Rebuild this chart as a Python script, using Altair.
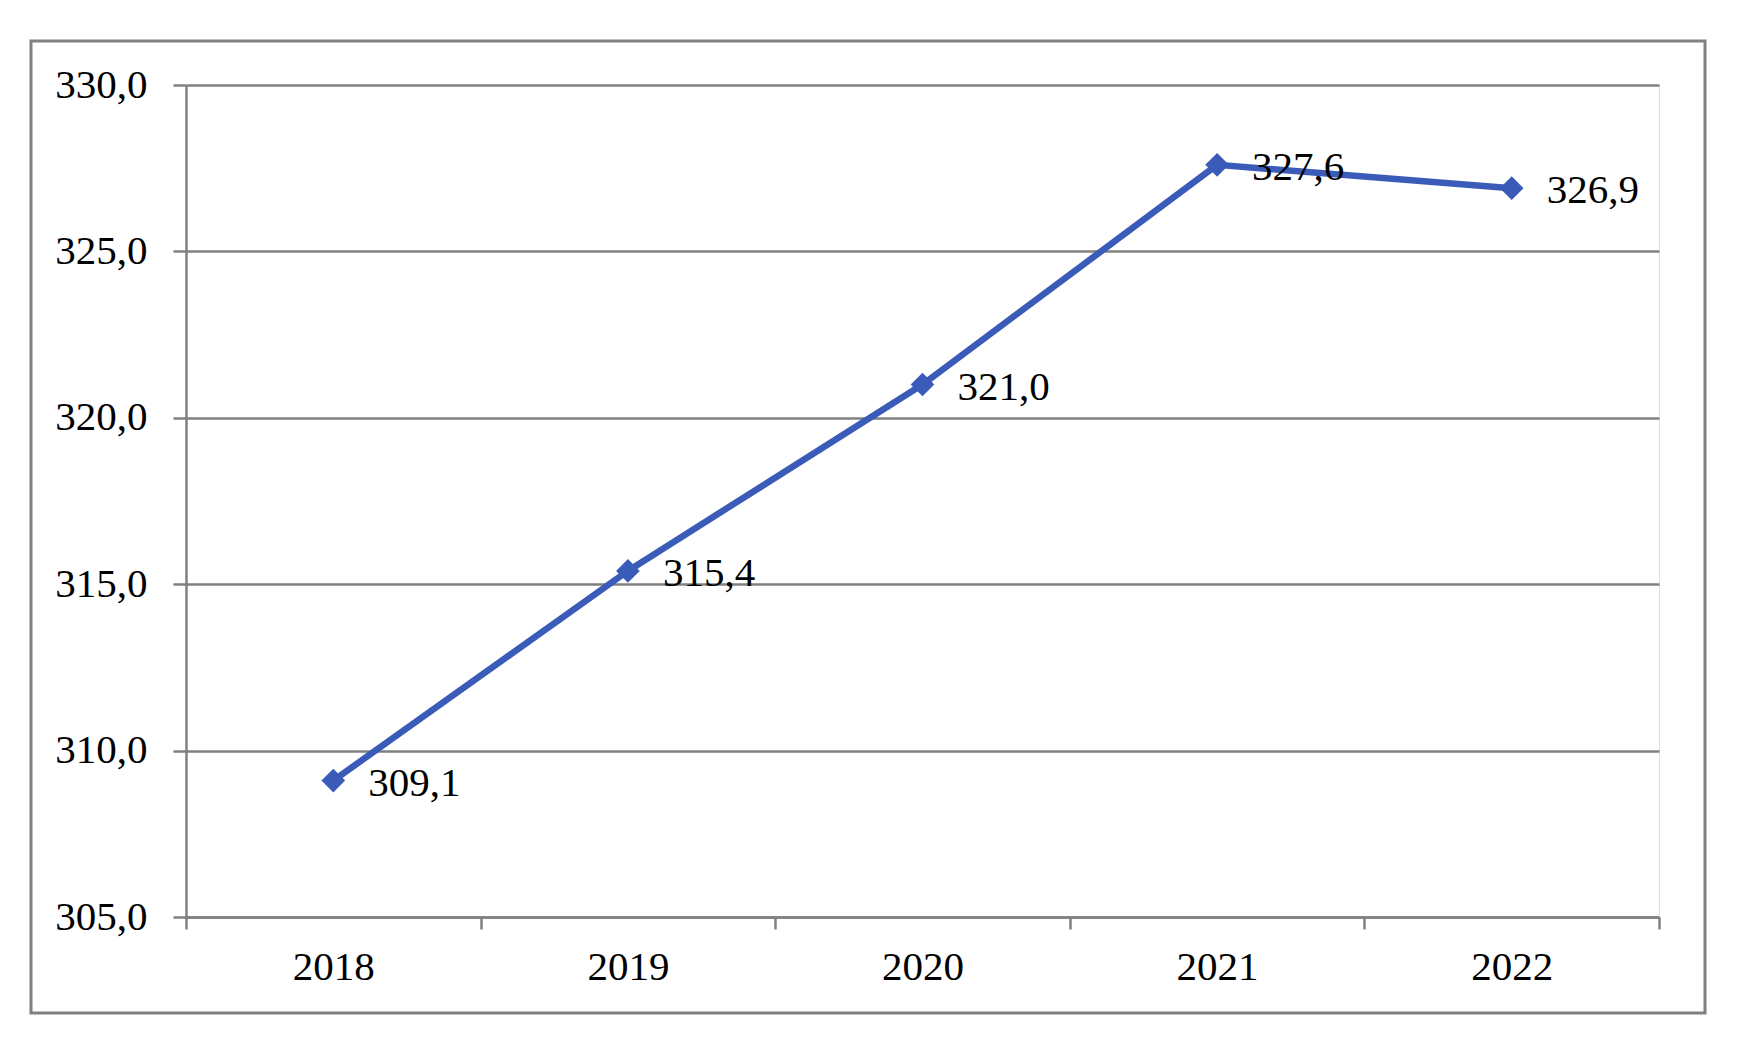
import altair as alt
import pandas as pd

years = ["2018", "2019", "2020", "2021", "2022"]
values = [309.1, 315.4, 321.0, 327.6, 326.9]
y_ticks = [305, 310, 315, 320, 325, 330]

df = pd.DataFrame({"year": years, "value": values})

FONT = "Liberation Serif"
GRAY = "#808080"
BLUE = "#3A5BB8"

x_enc = alt.X(
    "year:N",
    sort=years,
    scale=alt.Scale(paddingInner=0, paddingOuter=0),
    axis=alt.Axis(
        title=None,
        labelAngle=0,
        labelFont=FONT,
        labelFontSize=41,
        labelColor="black",
        labelPadding=18,
        labelBaseline="top",
        domainColor=GRAY,
        domainWidth=2.5,
        tickColor=GRAY,
        tickWidth=2.5,
        tickSize=12,
        tickBand="extent",
        grid=False,
    ),
)
y_enc = alt.Y(
    "value:Q",
    scale=alt.Scale(domain=[305, 330], nice=False, zero=False),
    axis=alt.Axis(
        title=None,
        values=y_ticks,
        labelExpr="replace(format(datum.value, '.1f'), '.', ',')",
        labelFont=FONT,
        labelFontSize=41,
        labelColor="black",
        labelPadding=26,
        domainColor=GRAY,
        domainWidth=2.5,
        tickColor=GRAY,
        tickWidth=2.5,
        tickSize=13,
        grid=True,
        gridColor=GRAY,
        gridWidth=2.5,
    ),
)

border = alt.Chart(pd.DataFrame({"k": [0]})).mark_rect(
    fill=None, stroke=GRAY, strokeWidth=3
).encode(
    x=alt.value(-155), x2=alt.value(1519), y=alt.value(-44), y2=alt.value(928)
)

line = alt.Chart(df).mark_line(color=BLUE, strokeWidth=6.5).encode(x=x_enc, y=y_enc)
points = alt.Chart(df).mark_point(
    shape="diamond", filled=True, color=BLUE, size=560, opacity=1
).encode(x=alt.X("year:N", sort=years), y="value:Q")
labels = alt.Chart(df).transform_calculate(
    lab="replace(format(datum.value, '.1f'), '.', ',')"
).mark_text(
    align="left", baseline="middle", dx=35, dy=3, font=FONT, fontSize=41, color="black"
).encode(x=alt.X("year:N", sort=years), y="value:Q", text="lab:N")

chart = alt.layer(border, line, points, labels).properties(
    width=1473,
    height=832,
    autosize=alt.AutoSizeParams(type="none"),
    padding={"left": 178, "top": 77, "right": 60, "bottom": 120},
).configure_view(strokeWidth=0, strokeOpacity=0).configure(background="white")

chart.save("out.html", embed_options={"renderer": "svg", "actions": False})
